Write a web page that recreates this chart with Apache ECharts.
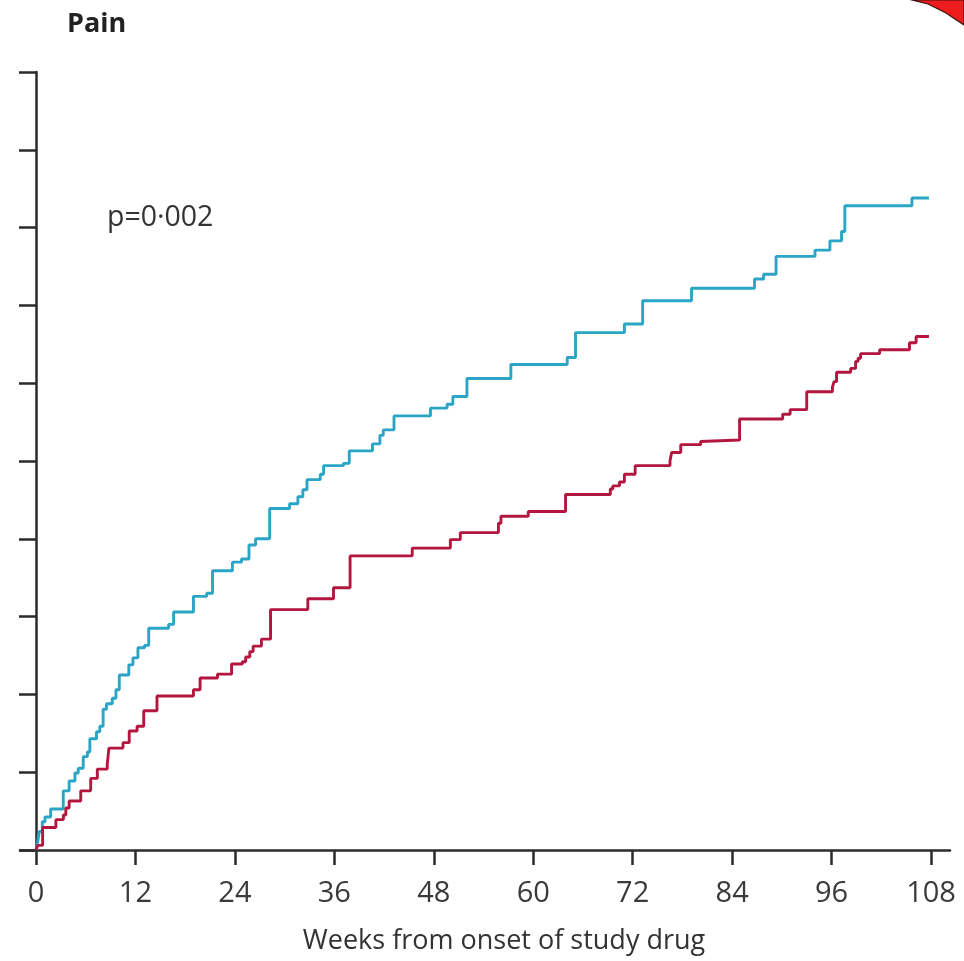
<!DOCTYPE html>
<html>
<head>
<meta charset="utf-8">
<title>Pain</title>
<script src="https://cdn.jsdelivr.net/npm/echarts@6/dist/echarts.min.js"></script>
<style>
  html, body { margin: 0; padding: 0; background: #fff; }
  #chart { width: 964px; height: 961px; }
</style>
</head>
<body>
<div id="chart"></div>
<script>
// Cumulative incidence of pain, stepped (value holds from each week onward)
const blueWeeks = [0, 0.2, 0.4, 0.76, 1.09, 1.77, 3.29, 4.0, 4.7, 5.1, 5.7, 6.2, 6.5, 7.3, 7.7, 8.1, 8.5, 9.2, 9.65, 10.05, 11.2, 11.7, 12.3, 13.1, 13.6, 16.0, 16.6, 19.0, 20.6, 21.3, 23.7, 24.8, 25.7, 26.5, 28.2, 30.6, 31.6, 32.2, 32.7, 34.3, 34.7, 37.1, 37.8, 40.6, 41.5, 41.9, 43.2, 47.6, 49.6, 50.3, 52.0, 57.3, 64.1, 65.1, 71.0, 73.2, 79.1, 86.7, 87.8, 89.3, 94.0, 95.8, 97.2, 97.6, 105.7, 107.75];
const blueRisk  = [0, 1.0, 2.4, 3.64, 4.24, 5.27, 7.6, 8.87, 9.9, 10.5, 12.0, 12.6, 14.3, 15.2, 15.9, 18.1, 18.8, 19.5, 20.6, 22.5, 23.8, 24.7, 26.0, 26.3, 28.5, 29.0, 30.6, 32.6, 33.0, 35.9, 37.0, 37.4, 39.2, 40.0, 43.9, 44.5, 45.4, 46.3, 47.6, 48.3, 49.4, 49.7, 51.3, 52.2, 53.3, 54.0, 55.8, 56.8, 57.3, 58.3, 60.6, 62.4, 63.3, 66.5, 67.6, 70.6, 72.2, 73.4, 74.0, 76.3, 77.1, 78.3, 79.5, 82.8, 83.8, 83.8];

const redWeeks = [0, 0.2, 0.8, 2.4, 3.3, 3.6, 4.0, 5.4, 6.6, 7.4, 8.6, 8.8, 10.5, 11.25, 12.2, 13.0, 14.6, 19.0, 19.8, 21.9, 23.6, 24.9, 25.3, 25.8, 26.2, 27.2, 28.3, 32.8, 35.9, 37.9, 45.4, 50.0, 51.2, 55.8, 56.1, 59.4, 63.9, 69.3, 69.6, 70.4, 71.0, 72.3, 76.5, 76.7, 77.8, 80.2, 80.4, 84.9, 90.1, 91.0, 93.0, 96.1, 96.3, 96.6, 98.3, 98.9, 99.2, 99.5, 101.8, 105.4, 106.2, 107.75];
const redRisk  = [0, 0.6, 2.9, 3.9, 4.5, 5.4, 6.3, 7.6, 9.2, 10.4, 11.05, 13.1, 13.8, 15.3, 15.9, 17.9, 19.8, 20.6, 22.1, 22.6, 23.9, 24.2, 24.8, 25.5, 26.2, 27.1, 30.9, 32.3, 33.7, 37.8, 38.8, 39.9, 40.8, 42.0, 42.9, 43.5, 45.7, 46.4, 46.8, 47.3, 48.3, 49.4, 50.0, 51.1, 52.1, 52.5, 52.7, 55.4, 56.0, 56.6, 58.9, 59.5, 60.2, 61.4, 61.9, 62.8, 63.2, 63.8, 64.3, 65.2, 66.0, 66.0];

const weekTicks = [0, 12, 24, 36, 48, 60, 72, 84, 96, 108];

const titleText = 'Pain';
const pValueText = 'p=0·002';
const xAxisTitle = 'Weeks from onset of study drug';

const zip = (xs, ys) => xs.map((x, i) => [x, ys[i]]);

const FONT = '"Open Sans", "DejaVu Sans", sans-serif';
const INK = '#2b2b2b';

const chart = echarts.init(document.getElementById('chart'), null, { renderer: 'canvas' });

chart.setOption({
  animation: false,
  backgroundColor: '#ffffff',
  grid: { left: 20, right: 14, top: 72, bottom: 111, containLabel: false },
  xAxis: {
    type: 'value',
    min: -1.93,
    max: 110.29,
    axisLine: { show: true, onZero: true, lineStyle: { color: INK, width: 2.5 } },
    axisTick: { show: true, customValues: weekTicks, length: 15, lineStyle: { color: INK, width: 2.5 } },
    axisLabel: { show: true, customValues: weekTicks, margin: 29, fontSize: 29, color: '#3a3a3a', fontFamily: FONT },
    splitLine: { show: false }
  },
  yAxis: {
    type: 'value',
    min: 0,
    max: 100,
    interval: 10,
    axisLine: { show: true, onZero: true, lineStyle: { color: INK, width: 2.5 } },
    axisTick: { show: true, length: 17, lineStyle: { color: INK, width: 2.5 } },
    axisLabel: { show: false },
    splitLine: { show: false }
  },
  series: [
    {
      name: 'blue',
      type: 'line',
      step: 'end',
      showSymbol: false,
      data: zip(blueWeeks, blueRisk),
      lineStyle: { color: '#2aa5c6', width: 2.9 },
      itemStyle: { color: '#2aa5c6' },
      z: 3
    },
    {
      name: 'red',
      type: 'line',
      step: 'end',
      showSymbol: false,
      data: zip(redWeeks, redRisk),
      lineStyle: { color: '#b3173f', width: 2.9 },
      itemStyle: { color: '#b3173f' },
      z: 4
    }
  ],
  graphic: [
    {
      type: 'text',
      left: 67, top: 11,
      style: { text: titleText, font: 'bold 27px ' + FONT, fill: '#222' }
    },
    {
      type: 'text',
      x: 107, y: 218,
      style: { text: pValueText, font: '28.5px ' + FONT, fill: '#333', verticalAlign: 'middle' }
    },
    {
      type: 'text',
      x: 504, y: 941,
      style: { text: xAxisTitle, font: '27px ' + FONT, fill: '#333', align: 'center', verticalAlign: 'middle' }
    },
    {
      type: 'polygon',
      shape: { points: [[912, 0], [964, 0], [964, 25], [946, 13], [928, 4]] },
      style: { fill: '#ee1c1c', stroke: '#3a1010', lineWidth: 1.2 }
    }
  ]
});
</script>
</body>
</html>
